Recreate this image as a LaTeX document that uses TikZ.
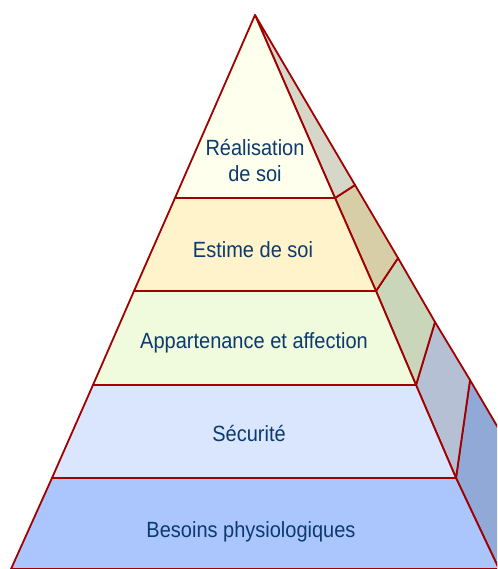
\documentclass[tikz,border=0pt]{standalone}
\usepackage{fontspec}
\setmainfont{Liberation Sans}
\definecolor{edge}{HTML}{A00000}
\definecolor{txt}{HTML}{0B3A6E}
\definecolor{fA}{HTML}{FFFFEE}
\definecolor{fB}{HTML}{FEF3CB}
\definecolor{fC}{HTML}{F0FADC}
\definecolor{fD}{HTML}{D9E6FE}
\definecolor{fE}{HTML}{ABC6FD}
\definecolor{sA}{HTML}{D6D6C9}
\definecolor{sB}{HTML}{D7CDA7}
\definecolor{sC}{HTML}{C9D6BA}
\definecolor{sD}{HTML}{B6C0D5}
\definecolor{sE}{HTML}{91A9D7}
\newcommand{\tallt}[1]{\scalebox{1}[1.1]{#1}}
\tikzset{
  face/.style={draw=edge, line width=1.8pt, line join=round},
  lbl/.style={text=txt, font=\fontsize{20}{24}\selectfont, inner sep=0pt, anchor=base},
}
\begin{document}
\begin{tikzpicture}[x=1pt,y=-1pt]
\useasboundingbox (0,0) rectangle (497,569);
\clip (0,0) rectangle (497,569);
\fill[white] (0,0) rectangle (497,569);
% key points
\coordinate (apex) at (255,15);
\coordinate (L1) at (175,198); \coordinate (R1) at (335,198);
\coordinate (L2) at (134,291); \coordinate (R2) at (376,291);
\coordinate (L3) at (93,385);  \coordinate (R3) at (416,385);
\coordinate (L4) at (52,478);  \coordinate (R4) at (456,478);
\coordinate (L5) at (11,569);  \coordinate (R5) at (499,569);
\coordinate (O1) at (355,185);
\coordinate (O2) at (398,258);
\coordinate (O3) at (435,322);
\coordinate (O4) at (470,380);
\coordinate (O5) at (581,569);
% side face
\filldraw[face, fill=sE] (R4) -- (O4) -- (O5) -- (R5) -- cycle;
\filldraw[face, fill=sD] (R3) -- (O3) -- (O4) -- (R4) -- cycle;
\filldraw[face, fill=sC] (R2) -- (O2) -- (O3) -- (R3) -- cycle;
\filldraw[face, fill=sB] (R1) -- (O1) -- (O2) -- (R2) -- cycle;
\filldraw[face, fill=sA] (apex) -- (O1) -- (R1) -- cycle;
% front face
\filldraw[face, fill=fE] (L4) -- (R4) -- (R5) -- (L5) -- cycle;
\filldraw[face, fill=fD] (L3) -- (R3) -- (R4) -- (L4) -- cycle;
\filldraw[face, fill=fC] (L2) -- (R2) -- (R3) -- (L3) -- cycle;
\filldraw[face, fill=fB] (L1) -- (R1) -- (R2) -- (L2) -- cycle;
\filldraw[face, fill=fA] (apex) -- (R1) -- (L1) -- cycle;
% labels
\node[lbl] (t1) at (255,156) {\tallt{Réalisation}};
\node[lbl] (t1b) at (255,182) {\tallt{de soi}};
\node[lbl] (t2) at (253,257) {\tallt{Estime de soi}};
\node[lbl] (t3) at (254,348) {\tallt{Appartenance et affection}};
\node[lbl] (t4) at (249,441) {\tallt{Sécurité}};
\node[lbl] (t5) at (251,537) {\tallt{Besoins physiologiques}};
\end{tikzpicture}
\end{document}
